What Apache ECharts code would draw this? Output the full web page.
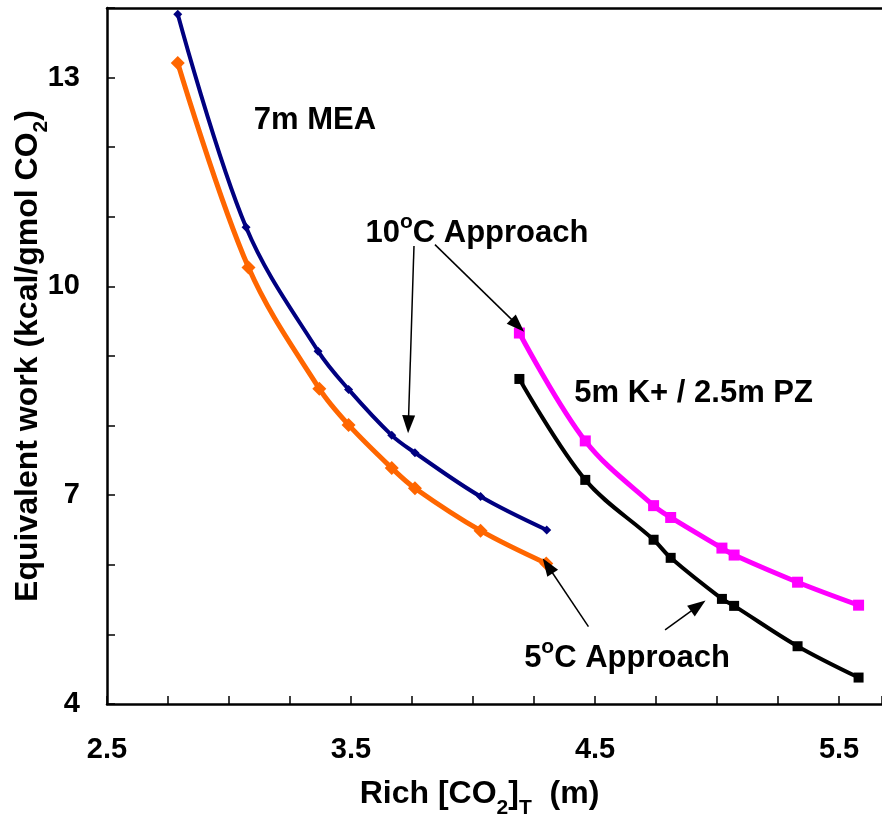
<!DOCTYPE html>
<html>
<head>
<meta charset="utf-8">
<script src="https://cdn.jsdelivr.net/npm/echarts@6/dist/echarts.min.js"></script>
<style>html,body{margin:0;padding:0;background:#fff}#c{width:882px;height:816px}</style>
</head>
<body>
<div id="c"></div>
<script>
// Data
var meaX       = [2.79, 3.07, 3.365, 3.49, 3.667, 3.762, 4.031, 4.302];
var mea10Y     = [13.91, 10.85, 9.07, 8.52, 7.86, 7.61, 6.98, 6.50];
var mea5X      = [2.79, 3.08, 3.37, 3.49, 3.667, 3.762, 4.031, 4.30];
var mea5Y      = [13.21, 10.27, 8.53, 8.01, 7.39, 7.10, 6.49, 6.02];
var kpzX       = [4.19, 4.46, 4.74, 4.81, 5.02, 5.07, 5.33, 5.58];
var kpz10Y     = [9.33, 7.78, 6.85, 6.68, 6.24, 6.14, 5.75, 5.42];
var kpz5Y      = [8.67, 7.22, 6.36, 6.10, 5.51, 5.41, 4.83, 4.38];
var xTickLabels = ['2.5', '3.5', '4.5', '5.5'];
var yTickLabels = ['4', '7', '10', '13'];
// annotation texts and their anchor positions (data coordinates)
var noteTexts = ['7m MEA', '10{sup|o}C Approach', '5m K+ / 2.5m PZ', '5{sup|o}C Approach'];
var noteX     = [3.352, 4.016, 4.904, 4.631];
var noteY     = [12.38, 10.76, 8.46, 4.66];
// arrows: [x1, y1, x2, y2]
var arrows = [
  [3.758, 10.58, 3.735, 8.02],
  [3.844, 10.60, 4.183, 9.44],
  [4.473, 5.112, 4.306, 5.986],
  [4.787, 5.065, 4.923, 5.41]
];

function zip(xs, ys) { return xs.map(function (x, i) { return [x, ys[i]]; }); }

var FONT = "'Liberation Sans', Arial, sans-serif";
var chart = echarts.init(document.getElementById('c'), null, {renderer: 'canvas'});

var option = {
  animation: false,
  grid: {left: 107, right: 0, top: 8, bottom: 112, containLabel: false, outerBoundsMode: 'none'},
  xAxis: [{
    type: 'value', min: 2.5, max: 5.676, interval: 0.25,
    axisLine: {show: true, onZero: false, lineStyle: {color: '#000', width: 2.5}},
    axisTick: {show: true, inside: true, length: 8, lineStyle: {color: '#000', width: 1.5}},
    splitLine: {show: false},
    axisLabel: {
      margin: 31, color: '#000', fontFamily: FONT, fontWeight: 'bold', fontSize: 29,
      formatter: function (v) {
        var k = Math.round(v * 4);
        if (k % 4 !== 2) return '';
        var idx = (k - 10) / 4;
        return xTickLabels[idx] || '';
      }
    },
    name: 'Rich [CO{sub|2}]{sub|T}  (m)', nameLocation: 'middle', nameGap: 74,
    nameTextStyle: {
      color: '#000', fontFamily: FONT, fontWeight: 'bold', fontSize: 32,
      padding: [0, 30, 0, 0],
      rich: {sub: {fontSize: 21, fontFamily: FONT, fontWeight: 'bold', color: '#000', verticalAlign: 'bottom', padding: [0, 0, -9, 0]}}
    }
  }, {
    type: 'value', position: 'top', min: 2.5, max: 5.676,
    axisLine: {show: true, lineStyle: {color: '#000', width: 2.5}},
    axisTick: {show: false}, axisLabel: {show: false}, splitLine: {show: false}
  }],
  yAxis: [{
    type: 'value', min: 4, max: 14, interval: 1,
    axisLine: {show: true, onZero: false, lineStyle: {color: '#000', width: 2.5}},
    axisTick: {show: true, inside: true, length: 8, lineStyle: {color: '#000', width: 1.5}},
    splitLine: {show: false},
    axisLabel: {
      margin: 27, color: '#000', fontFamily: FONT, fontWeight: 'bold', fontSize: 29,
      formatter: function (v) {
        var k = Math.round(v) - 4;
        if (k % 3 !== 0) return '';
        return yTickLabels[k / 3] || '';
      }
    },
    name: 'Equivalent work (kcal/gmol CO{sub|2})', nameLocation: 'middle', nameGap: 63,
    nameMoveOverlap: false,
    nameTextStyle: {
      color: '#000', fontFamily: FONT, fontWeight: 'bold', fontSize: 32,
      rich: {sub: {fontSize: 21, fontFamily: FONT, fontWeight: 'bold', color: '#000', verticalAlign: 'bottom', padding: [0, 0, -8, 0]}}
    }
  }],
  series: [
    {
      name: '7m MEA 10C', type: 'line', smooth: 0.35, data: zip(meaX, mea10Y),
      symbol: 'diamond', symbolSize: 9, showAllSymbol: true,
      lineStyle: {color: '#000080', width: 4}, itemStyle: {color: '#000080'}
    },
    {
      name: '7m MEA 5C', type: 'line', smooth: 0.35, data: zip(mea5X, mea5Y),
      symbol: 'diamond', symbolSize: 14, showAllSymbol: true,
      lineStyle: {color: '#FF6600', width: 5}, itemStyle: {color: '#FF6600'}
    },
    {
      name: 'K/PZ 10C', type: 'line', smooth: 0.35, data: zip(kpzX, kpz10Y),
      symbol: 'rect', symbolSize: 11, showAllSymbol: true,
      lineStyle: {color: '#FF00FF', width: 5}, itemStyle: {color: '#FF00FF'}
    },
    {
      name: 'K/PZ 5C', type: 'line', smooth: 0.35, data: zip(kpzX, kpz5Y),
      symbol: 'rect', symbolSize: 10, showAllSymbol: true,
      lineStyle: {color: '#000000', width: 4}, itemStyle: {color: '#000000'}
    },
    {
      name: 'notes', type: 'scatter', symbolSize: 0, silent: true,
      itemStyle: {color: '#000', opacity: 1},
      data: noteTexts.map(function (t, i) { return {value: [noteX[i], noteY[i]], name: t}; }),
      label: {
        show: true, position: 'inside', color: '#000', opacity: 1, textBorderWidth: 0,
        fontFamily: FONT, fontWeight: 'bold', fontSize: 31,
        formatter: function (p) { return p.name; },
        rich: {sup: {fontSize: 21, fontFamily: FONT, fontWeight: 'bold', color: '#000', textBorderWidth: 0, verticalAlign: 'top', padding: [-6, 0, 0, 0]}}
      },
      markLine: {
        silent: true, symbol: ['none', 'triangle'], symbolSize: [13, 18],
        label: {show: false},
        lineStyle: {color: '#000', width: 1.5, type: 'solid', opacity: 1},
        itemStyle: {color: '#000'},
        data: arrows.map(function (a) { return [{coord: [a[0], a[1]]}, {coord: [a[2], a[3]]}]; })
      }
    }
  ]
};
chart.setOption(option);
</script>
</body>
</html>
